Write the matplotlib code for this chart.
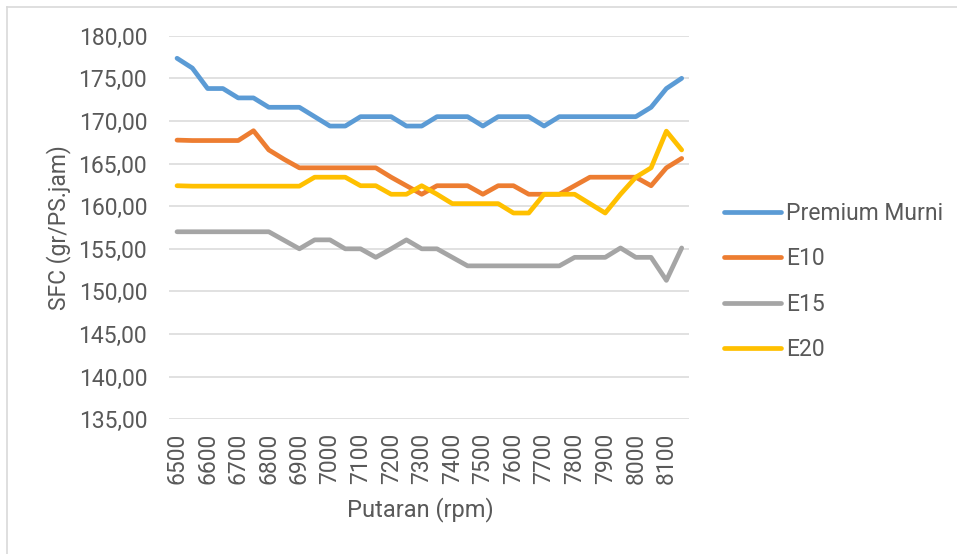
import matplotlib
matplotlib.use("Agg")
import matplotlib.pyplot as plt
from matplotlib.lines import Line2D
from matplotlib.ticker import FuncFormatter, MultipleLocator

rpm = list(range(6500, 8151, 50))

premium_murni = [177.35, 176.2, 173.8, 173.8, 172.7, 172.7, 171.6, 171.6, 171.6, 170.5,
                 169.4, 169.4, 170.5, 170.5, 170.5, 169.4, 169.4, 170.5, 170.5, 170.5,
                 169.4, 170.5, 170.5, 170.5, 169.4, 170.5, 170.5, 170.5, 170.5, 170.5,
                 170.5, 171.6, 173.8, 175.0]
e10 = [167.75, 167.7, 167.7, 167.7, 167.7, 168.85, 166.6, 165.5, 164.5, 164.5,
       164.5, 164.5, 164.5, 164.5, 163.4, 162.4, 161.4, 162.4, 162.4, 162.4,
       161.4, 162.4, 162.4, 161.4, 161.4, 161.4, 162.4, 163.4, 163.4, 163.4,
       163.4, 162.4, 164.5, 165.6]
e15 = [157.0, 157.0, 157.0, 157.0, 157.0, 157.0, 157.0, 156.0, 155.0, 156.05,
       156.05, 155.0, 155.0, 154.0, 155.0, 156.05, 155.0, 155.0, 154.0, 153.0,
       153.0, 153.0, 153.0, 153.0, 153.0, 153.0, 154.0, 154.0, 154.0, 155.1,
       154.0, 154.0, 151.3, 155.1]
e20 = [162.4, 162.35, 162.35, 162.35, 162.35, 162.35, 162.35, 162.35, 162.35, 163.4,
       163.4, 163.4, 162.4, 162.4, 161.4, 161.4, 162.4, 161.4, 160.3, 160.3,
       160.3, 160.3, 159.2, 159.2, 161.4, 161.4, 161.4, 160.3, 159.2, 161.4,
       163.4, 164.5, 168.8, 166.6]

series = [("Premium Murni", premium_murni, "#5B9BD5"),
          ("E10", e10, "#ED7D31"),
          ("E15", e15, "#A5A5A5"),
          ("E20", e20, "#FFC000")]

plt.rcParams['font.family'] = ['Roboto', 'DejaVu Sans']
text_color = "#595959"
fs = 16.5

fig = plt.figure(figsize=(9.57, 5.54), dpi=100)
ax = fig.add_axes([0.177, 0.2431, 0.5433, 0.6925])

for name, vals, col in series:
    ax.plot(rpm, vals, color=col, lw=3.4, label=name, solid_capstyle='round',
            solid_joinstyle='round')

ax.set_xlim(6475, 8175)
ax.set_ylim(135, 180)
ax.yaxis.set_major_locator(MultipleLocator(5))
ax.yaxis.set_major_formatter(FuncFormatter(lambda v, p: f"{v:.2f}".replace(".", ",")))
ax.set_xticks(list(range(6500, 8101, 100)))
ax.set_xticklabels([str(v) for v in range(6500, 8101, 100)], rotation=90)
ax.grid(axis='y', color="#D9D9D9", lw=1.1)
ax.set_axisbelow(True)
for s in ax.spines.values():
    s.set_visible(False)
ax.tick_params(axis='both', length=0, labelsize=fs, colors=text_color)
ax.tick_params(axis='y', pad=16)
ax.tick_params(axis='x', pad=10)

ax.set_ylabel("SFC (gr/PS.jam)", fontsize=fs, color=text_color)
ax.yaxis.set_label_coords(-0.19, 0.5)
ax.set_xlabel("Putaran (rpm)", fontsize=17, color=text_color)
ax.xaxis.set_label_coords(0.482, -0.202)

leg = ax.legend(loc='center left', frameon=False,
                fontsize=fs, handlelength=2.5, handletextpad=0.2, labelspacing=0.98,
                borderaxespad=0, borderpad=0)
for t in leg.get_texts():
    t.set_color(text_color)
# legend centred on y ~ 281 px (rows 213..350)
leg.set_bbox_to_anchor((1.067, 1 - (281.5 - 35.7) / 383.6), transform=ax.transAxes)

# chart frame (left and top)
fig.add_artist(Line2D([7/957, 7/957], [0, 1 - 7/554], transform=fig.transFigure,
                      color="#D9D9D9", lw=1.2))
fig.add_artist(Line2D([7/957, 1], [1 - 7/554, 1 - 7/554], transform=fig.transFigure,
                      color="#D9D9D9", lw=1.2))

fig.savefig("out.png", dpi=100, facecolor="white")
